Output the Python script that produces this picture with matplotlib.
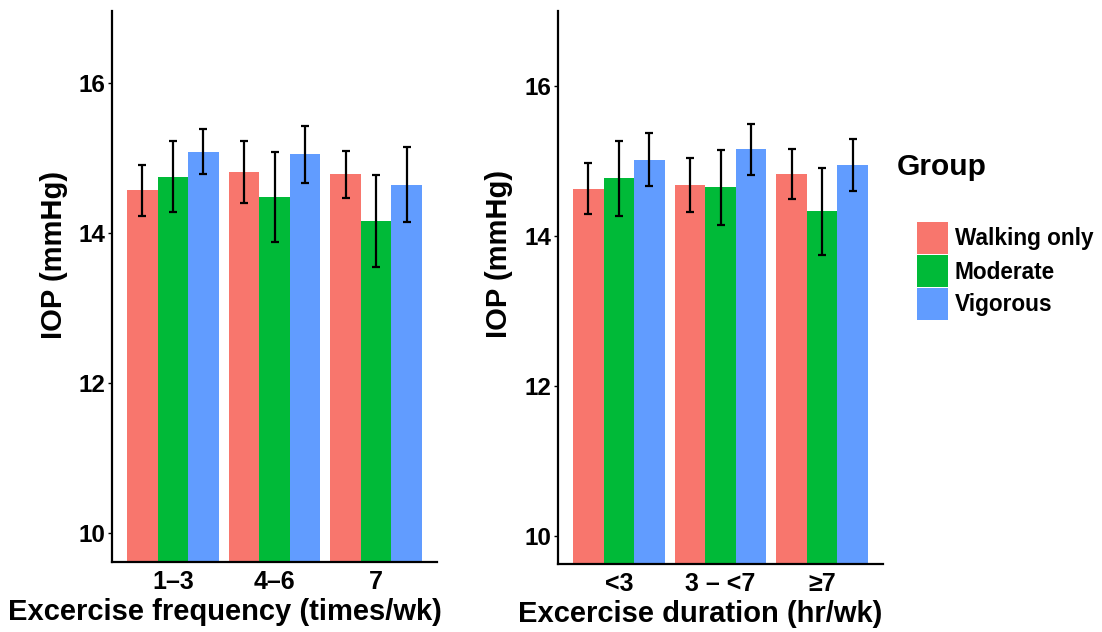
import matplotlib
matplotlib.use("Agg")
import matplotlib.pyplot as plt
import numpy as np
from matplotlib.patches import Rectangle

plt.rcParams['font.family'] = ['Liberation Sans', 'DejaVu Sans']
plt.rcParams['font.weight'] = 'bold'

groups = ["Walking only", "Moderate", "Vigorous"]
colors = ["#F8766D", "#00BA38", "#619CFF"]

freq_labels = ["1\u20133", "4\u20136", "7"]
freq_means = {
    "Walking only": [14.57, 14.81, 14.78],
    "Moderate":     [14.75, 14.48, 14.16],
    "Vigorous":     [15.08, 15.05, 14.64],
}
freq_err = {
    "Walking only": [0.34, 0.41, 0.31],
    "Moderate":     [0.47, 0.60, 0.61],
    "Vigorous":     [0.30, 0.38, 0.50],
}

dur_labels = ["<3", "3 \u2013 <7", "\u22657"]
dur_means = {
    "Walking only": [14.63, 14.68, 14.83],
    "Moderate":     [14.77, 14.65, 14.33],
    "Vigorous":     [15.02, 15.16, 14.95],
}
dur_err = {
    "Walking only": [0.34, 0.36, 0.33],
    "Moderate":     [0.50, 0.50, 0.58],
    "Vigorous":     [0.35, 0.34, 0.35],
}

W, H = 1102, 632
fig = plt.figure(figsize=(W / 100, H / 100), dpi=100)


def px_axes(x0, y_top, x1, y_bot):
    return fig.add_axes([x0 / W, 1 - y_bot / H, (x1 - x0) / W, (y_bot - y_top) / H])


def draw(ax, labels, means, errs, xlabel, ylim, xlab_pos, ylab_pos):
    x = np.arange(len(labels))
    bw = 0.3
    for i, g in enumerate(groups):
        pos = x + (i - 1) * bw
        ax.bar(pos, np.array(means[g]) - ylim[0], bottom=ylim[0], width=bw,
               color=colors[i], edgecolor='none', zorder=2)
        ax.errorbar(pos, means[g], yerr=errs[g], fmt='none', ecolor='black',
                    elinewidth=1.6, capsize=3.2, capthick=1.6, zorder=3)
    ax.set_xlim(-0.6, len(labels) - 0.4)
    ax.set_ylim(*ylim)
    ax.set_yticks([10, 12, 14, 16])
    ax.set_xticks(x)
    ax.set_xticklabels(labels)
    for s in ['top', 'right']:
        ax.spines[s].set_visible(False)
    for s in ['left', 'bottom']:
        ax.spines[s].set_linewidth(1.6)
        ax.spines[s].set_color('black')
    ax.tick_params(axis='y', length=3, width=1, labelsize=17.5, pad=2, colors='black')
    ax.tick_params(axis='x', length=0, labelsize=18, pad=6, colors='black')
    for t in ax.get_xticklabels() + ax.get_yticklabels():
        t.set_fontweight('bold')
    ax.set_xlabel(xlabel, fontsize=21, fontweight='bold')
    ax.set_ylabel("IOP (mmHg)", fontsize=21, fontweight='bold')
    ax.xaxis.set_label_coords(*xlab_pos)
    ax.yaxis.set_label_coords(*ylab_pos)


ax1 = px_axes(112, 11, 437, 562)
draw(ax1, freq_labels, freq_means, freq_err, "Excercise frequency (times/wk)",
     (9.61, 16.96), (0.348, -0.066), (-0.135, 0.557))

ax2 = px_axes(558, 11, 883, 564)
draw(ax2, dur_labels, dur_means, dur_err, "Excercise duration (hr/wk)",
     (9.63, 17.0), (0.437, -0.066), (-0.138, 0.560))

# legend
fig.text(897 / W, 1 - 167 / H, "Group", fontsize=21.5, fontweight='bold',
         ha='left', va='center')
key_tops = [222, 255, 288]
for i, g in enumerate(groups):
    y0 = key_tops[i]
    fig.add_artist(Rectangle((917 / W, 1 - (y0 + 32) / H), 31 / W, 32 / H,
                             transform=fig.transFigure, facecolor=colors[i],
                             edgecolor='none'))
    fig.text(955 / W, 1 - (y0 + 17) / H, g, fontsize=16.3, fontweight='bold',
             ha='left', va='center')

fig.savefig("out.png", dpi=100)
